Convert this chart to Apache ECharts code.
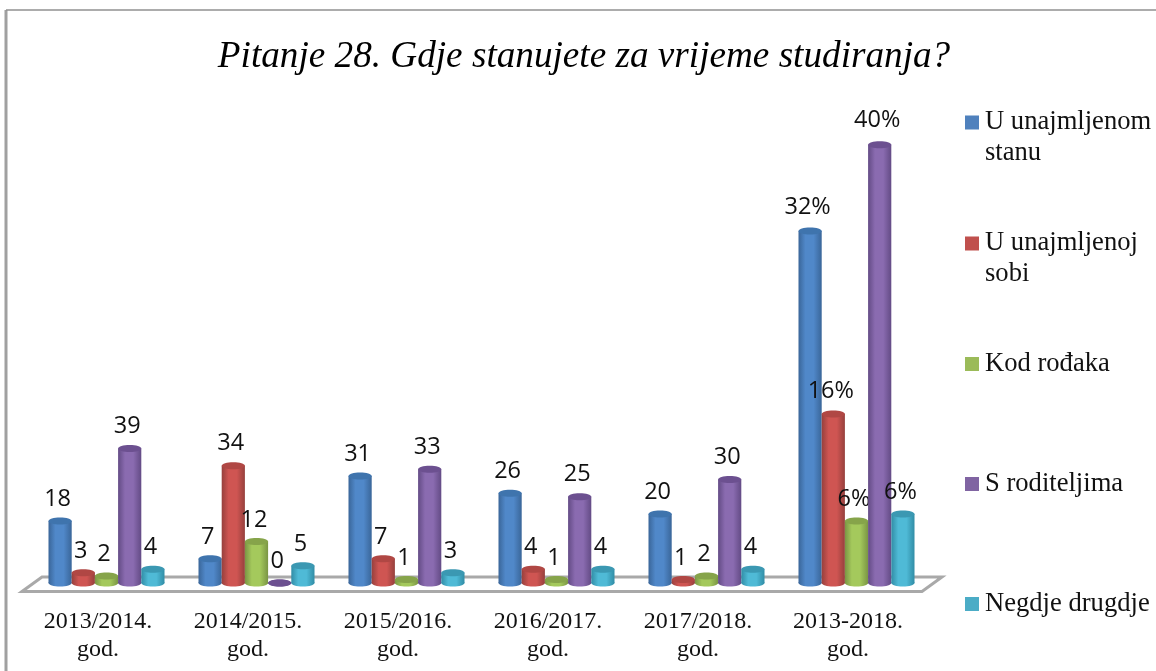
<!DOCTYPE html>
<html><head><meta charset="utf-8">
<style>html,body{margin:0;padding:0;background:#fff}#c{width:1156px;height:671px}</style>
<script src="https://cdn.jsdelivr.net/npm/echarts@6/dist/echarts.min.js"></script>
</head><body><div id="c"></div>
<script>
const categories = ['2013/2014.\ngod.','2014/2015.\ngod.','2015/2016.\ngod.','2016/2017.\ngod.','2017/2018.\ngod.','2013-2018.\ngod.'];
const stan   = [18, 7, 31, 26, 20, 102];
const soba   = [3, 34, 7, 4, 1, 49];
const rodjak = [2, 12, 1, 1, 2, 18];
const roditelji = [39, 0, 33, 25, 30, 127];
const drugdje = [4, 5, 3, 4, 4, 20];
const stanLabels = ['18','7','31','26','20','32%'];
const sobaLabels = ['3','34','7','4','1','16%'];
const rodjakLabels = ['2','12','1','1','2','6%'];
const roditeljiLabels = ['39','0','33','25','30','40%'];
const drugdjeLabels = ['4','5','3','4','4','6%'];
const seriesNames = ['U unajmljenom\nstanu','U unajmljenoj\nsobi','Kod rođaka','S roditeljima','Negdje drugdje'];
const legendColors = ['#4F81BD','#C0504D','#9BBB59','#8064A2','#4BACC6'];
const edgeColors = ['#3a6699','#96403d','#7a9544','#634b85','#318da6'];
const midColors = ['#5088c9','#cf5552','#a4c95c','#8a6bb0','#4fbad6'];
const topColors = ['#3f74ad','#b04744','#86a44a','#6c5090','#3b98b2'];
const values = [stan, soba, rodjak, roditelji, drugdje];
const labels = [stanLabels, sobaLabels, rodjakLabels, roditeljiLabels, drugdjeLabels];
const legendTops = [107, 228, 348.5, 468.5, 588.5];

const chart = echarts.init(document.getElementById('c'), null, {renderer:'canvas'});
const BW = 23.2, RY = 3.5;
function cylinder(si){
  return function(params, api){
    const c = api.coord([api.value(0), api.value(1)]);
    const base = api.coord([api.value(0), 0]);
    const cx = c[0] + (si - 2) * BW;
    const rx = BW / 2;
    const grad = new echarts.graphic.LinearGradient(0,0,1,0,[
      {offset:0,color:edgeColors[si]},{offset:0.3,color:midColors[si]},
      {offset:0.65,color:midColors[si]},{offset:1,color:edgeColors[si]}]);
    const h = base[1] - c[1];
    return {type:'group', children:[
      {type:'ellipse', shape:{cx, cy:base[1], rx, ry:RY}, style:{fill: h>0 ? grad : topColors[si]}},
      {type:'rect', shape:{x:cx-rx, y:c[1], width:BW, height:h}, style:{fill:grad}},
      {type:'ellipse', shape:{cx, cy:c[1], rx, ry:RY}, style:{fill:topColors[si]}},
      {type:'text', z2:100, style:{text:labels[si][params.dataIndex], x:cx-2.5, y:c[1]-21.5-h*0.006,
        align:'center', verticalAlign:'middle', fill:'#111', font:'23.5px "Open Sans"'}}
    ]};
  };
}
chart.setOption({
  animation:false,
  backgroundColor:'#fff',
  title:{text:'Pitanje 28. Gdje stanujete za vrijeme studiranja?', left:579, top:34, textAlign:'center',
    textStyle:{fontFamily:'"Liberation Serif"', fontStyle:'italic', fontWeight:'normal', fontSize:37.2, color:'#000'}},
  grid:{left:31.5, width:900, top:134.5, bottom:88},
  xAxis:{type:'category', data:categories, axisLine:{show:false}, axisTick:{show:false},
    axisLabel:{interval:0, margin:25, padding:[0,17,0,0], lineHeight:28, color:'#111',
      fontFamily:'"Liberation Serif"', fontSize:24}},
  yAxis:{type:'value', min:0, max:130, show:false},
  legend: seriesNames.map((n,i)=>({
    data:[n], left:965, top:legendTops[i], selectedMode:false, padding:0,
    itemWidth:14, itemHeight: n.includes('\n') ? 45 : 14,
    icon: n.includes('\n') ? 'path://M0,0H14V14H0ZM0,45L0,45Z' : 'rect',
    itemGap:0,
    textStyle:{fontFamily:'"Liberation Serif"', fontSize:26.6, color:'#111', lineHeight:31, padding:[0,0,0,1]}
  })),
  graphic:[
    {type:'line', z:0, shape:{x1:6,y1:10,x2:6,y2:671}, style:{stroke:'#a0a0a0',lineWidth:3}},
    {type:'line', z:0, shape:{x1:6,y1:10,x2:1156,y2:10}, style:{stroke:'#909090',lineWidth:1.5}},
    {type:'polygon', z:0, shape:{points:[[22,591.5],[42,577],[942,577],[922,591.5]]},
      style:{fill:'#fff',stroke:'#a9a9a9',lineWidth:3}}
  ],
  series: seriesNames.map((n,i)=>({
    type:'custom', name:n, z:2+i,
    renderItem:cylinder(i),
    itemStyle:{color:legendColors[i]},
    encode:{x:0,y:1},
    data: categories.map((c,j)=>[j, values[i][j]])
  }))
});
</script></body></html>
